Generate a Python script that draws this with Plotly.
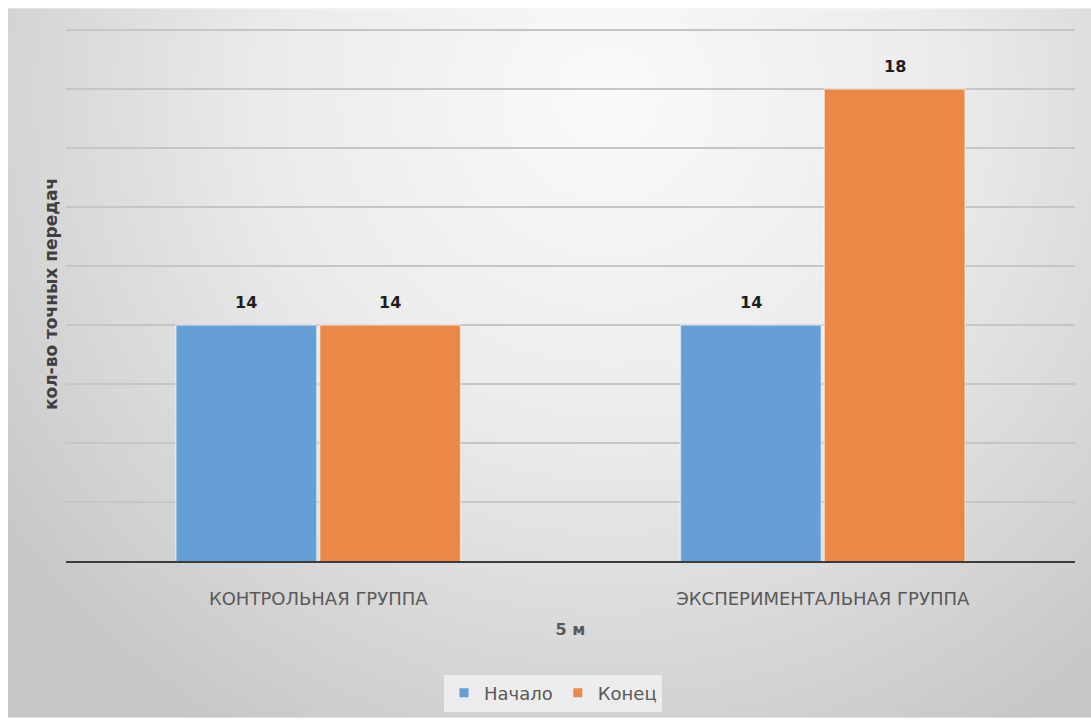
import base64
import plotly.graph_objects as go

# Data
categories = ["КОНТРОЛЬНАЯ ГРУППА", "ЭКСПЕРИМЕНТАЛЬНАЯ ГРУППА"]
series_names = ["Начало", "Конец"]
start_values = [14, 14]
end_values = [14, 18]
series_colors = ["#659fd6", "#eb8847"]

W, H = 1091, 723
ML, MR, MT, MB = 66, 16, 27, 158
plot_w = W - ML - MR
plot_h = H - MT - MB

FONT = "DejaVu Sans"

# Soft radial backdrop as an inline SVG image
svg = (
    '<svg xmlns="http://www.w3.org/2000/svg" width="1083" height="715" '
    'viewBox="0 0 1083 715" preserveAspectRatio="none">'
    '<defs><radialGradient id="g" gradientUnits="userSpaceOnUse" '
    'cx="600" cy="90" r="760">'
    '<stop offset="0" stop-color="#fafafa"/>'
    '<stop offset="0.45" stop-color="#ebebeb"/>'
    '<stop offset="1" stop-color="#c6c6c6"/>'
    '</radialGradient></defs>'
    '<rect width="1083" height="715" fill="url(#g)"/></svg>'
)
bg_uri = "data:image/svg+xml;base64," + base64.b64encode(svg.encode()).decode()

fig = go.Figure()
for name, vals, col in zip(series_names, [start_values, end_values], series_colors):
    fig.add_trace(go.Bar(
        x=categories, y=vals, name=name, showlegend=False,
        marker=dict(color=col, line=dict(color="rgba(255,255,255,0.55)", width=1.5)),
    ))
    # small square legend key
    fig.add_trace(go.Scatter(
        x=[None], y=[None], mode="markers", name=name,
        marker=dict(symbol="square", size=9, color=col),
    ))

# Value labels above each bar
shift = 72
for vals, dx in zip([start_values, end_values], [-shift, shift]):
    for c, v in zip(categories, vals):
        fig.add_annotation(
            x=c, y=v, text=f"<b>{v}</b>", showarrow=False,
            xshift=dx, yshift=22, yanchor="middle",
            font=dict(family=FONT, size=16, color="#1e1e1e"),
        )

fig.add_layout_image(
    source=bg_uri, xref="paper", yref="paper",
    x=(8 - ML) / plot_w, y=(H - MB - 8) / plot_h,
    sizex=(W - 8) / plot_w, sizey=(H - 8) / plot_h,
    xanchor="left", yanchor="top", sizing="stretch", layer="below",
)

fig.update_layout(
    width=W, height=H,
    margin=dict(l=ML, r=MR, t=MT, b=MB),
    paper_bgcolor="white",
    plot_bgcolor="rgba(0,0,0,0)",
    barmode="group", bargap=0.43, bargroupgap=0.02,
    font=dict(family=FONT, color="#595959"),
    showlegend=True,
    legend=dict(
        orientation="h", x=(553 - ML) / plot_w, y=(H - MB - 698) / plot_h,
        xanchor="center", yanchor="middle",
        bgcolor="rgba(242,242,242,0.8)",
        font=dict(family=FONT, size=18, color="#595959"),
        itemwidth=30, tracegroupgap=0,
    ),
    xaxis=dict(
        showline=True, linecolor="#3c3c3c", linewidth=2,
        ticks="outside", ticklen=20, tickcolor="rgba(0,0,0,0)",
        tickfont=dict(family=FONT, size=18, color="#595959"),
        title=dict(text="<b>5 м</b>", standoff=16,
                   font=dict(family=FONT, size=16, color="#595959")),
    ),
    yaxis=dict(
        range=[10, 19.05], dtick=1, showticklabels=False,
        showgrid=True, gridcolor="#c6c6c6", gridwidth=1.5, zeroline=False,
        title=dict(text="<b>кол-во точных передач</b>", standoff=3,
                   font=dict(family=FONT, size=17, color="#404040")),
    ),
)

fig.write_html("out.html")
